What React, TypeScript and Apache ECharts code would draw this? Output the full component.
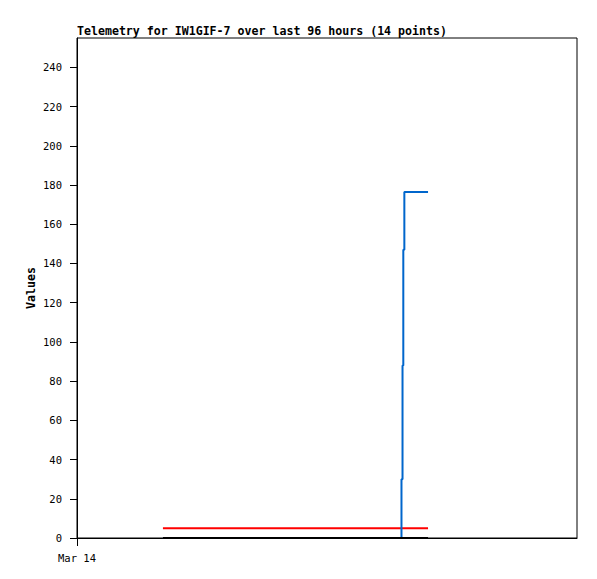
import React, { useEffect, useRef } from "react";
import * as echarts from "echarts";

const titleText = "Telemetry for IW1GIF-7 over last 96 hours (14 points)";
const hours = [16.5, 22, 28, 34, 40, 46, 52, 58, 62.3, 62.5, 62.65, 62.85, 65, 67.4];
const blueValues = [0, 0, 0, 0, 0, 0, 0, 0, 30, 88, 147, 176.5, 176.5, 176.5];
const redValues = [5, 5, 5, 5, 5, 5, 5, 5, 5, 5, 5, 5, 5, 5];
const blackValues = [0, 0, 0, 0, 0, 0, 0, 0, 0, 0, 0, 0, 0, 0];
const yTicks = [0, 20, 40, 60, 80, 100, 120, 140, 160, 180, 200, 220, 240];
const xTicks = [0];
const xTickLabels = ["Mar 14"];

const FONT = "DejaVu Sans Mono";

export default function App() {
  const ref = useRef<HTMLDivElement>(null);
  useEffect(() => {
    if (!ref.current) return;
    const chart = echarts.init(ref.current, null, { renderer: "svg" });
    const pts = (vals: number[]) => hours.map((h, i) => [h, vals[i]]);
    chart.setOption({
      animation: false,
      backgroundColor: "#fff",
      title: {
        text: titleText,
        left: 77,
        top: 25,
        padding: 0,
        textStyle: { fontFamily: FONT, fontSize: 11.6, fontWeight: "bold", color: "#000" },
      },
      grid: {
        left: 77,
        top: 38,
        right: 20,
        bottom: 41,
        show: true,
        borderColor: "#000",
        borderWidth: 1,
        backgroundColor: "transparent",
      },
      xAxis: {
        type: "value",
        min: 0,
        max: 96,
        splitLine: { show: false },
        axisLine: { show: true, lineStyle: { color: "#000", width: 1 } },
        axisTick: { show: true, customValues: xTicks, length: 8, inside: false, lineStyle: { color: "#000" } },
        axisLabel: {
          customValues: xTicks,
          formatter: (v: number) => {
            const i = xTicks.indexOf(v);
            return i >= 0 ? xTickLabels[i] : "";
          },
          fontFamily: FONT,
          fontSize: 10.5,
          color: "#000",
          margin: 14,
        },
      },
      yAxis: {
        type: "value",
        min: 0,
        max: 255,
        name: "Values",
        nameLocation: "middle",
        nameRotate: 90,
        nameGap: 40,
        nameMoveOverlap: false,
        nameTextStyle: { fontFamily: FONT, fontSize: 11.6, fontWeight: "bold", color: "#000" },
        splitLine: { show: false },
        axisLine: { show: true, lineStyle: { color: "#000", width: 1 } },
        axisTick: { show: true, customValues: yTicks, length: 7, lineStyle: { color: "#000" } },
        axisLabel: {
          customValues: yTicks,
          fontFamily: FONT,
          fontSize: 10.5,
          color: "#000",
          margin: 15,
        },
      },
      series: [
        {
          type: "line",
          data: pts(redValues),
          step: "end",
          showSymbol: false,
          lineStyle: { color: "#ff0000", width: 2 },
          itemStyle: { color: "#ff0000" },
        },
        {
          type: "line",
          data: pts(blueValues),
          step: "end",
          showSymbol: false,
          lineStyle: { color: "#0066cc", width: 2 },
          itemStyle: { color: "#0066cc" },
        },
        {
          type: "line",
          data: pts(blackValues),
          step: "end",
          showSymbol: false,
          lineStyle: { color: "#000000", width: 2 },
          itemStyle: { color: "#000000" },
        },
      ],
    });
    return () => chart.dispose();
  }, []);
  return (
    <div
      ref={ref}
      style={{ position: "fixed", left: 0, top: 0, width: 597, height: 579 }}
    />
  );
}
